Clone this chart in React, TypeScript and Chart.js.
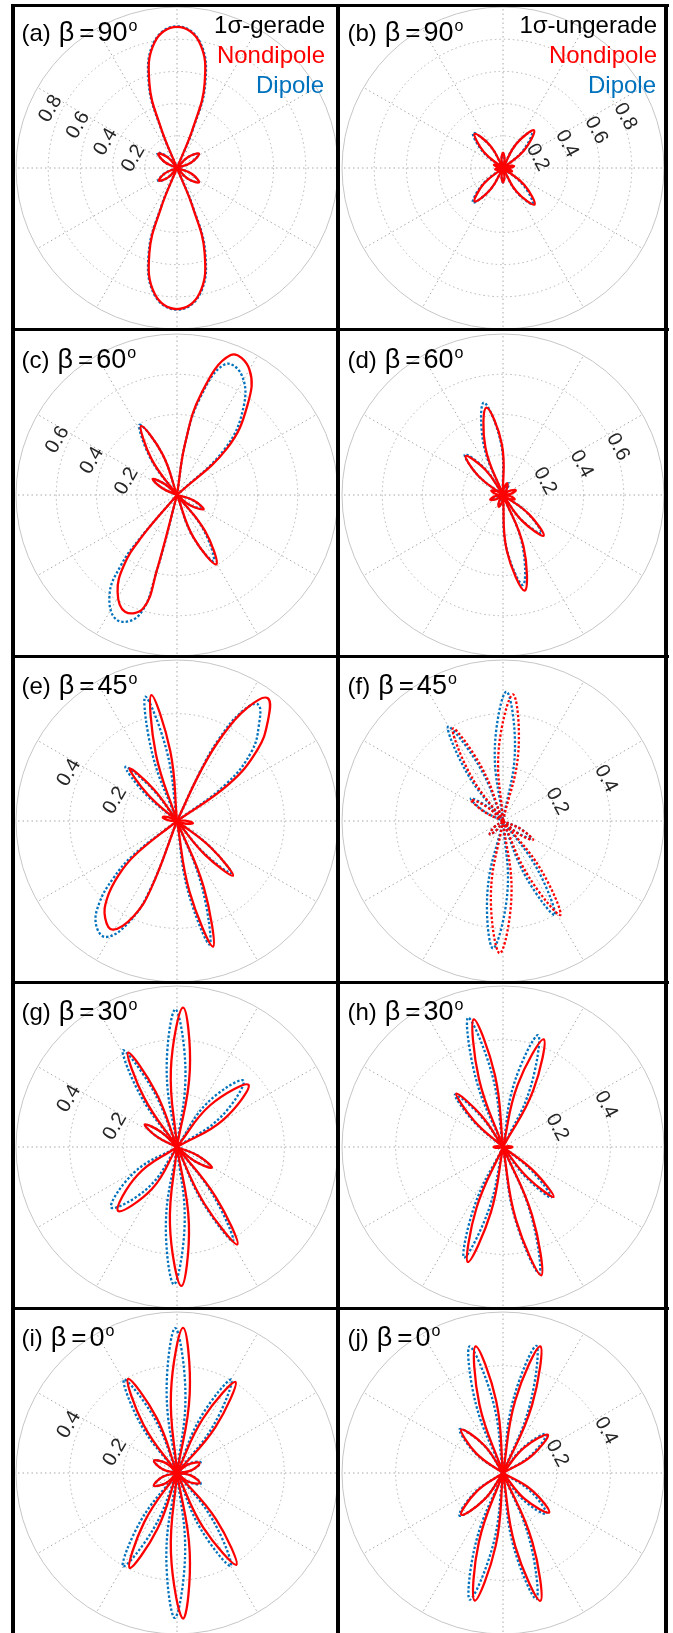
import React, { useEffect, useRef } from "react";
import { Chart, registerables } from "chart.js";
Chart.register(...registerables);

type Petal = number[][]; // list of [angleDeg, r] points along one lobe (origin added at both ends)

// ---------- panel texts ----------
const PANEL_TAGS = ["(a)", "(b)", "(c)", "(d)", "(e)", "(f)", "(g)", "(h)", "(i)", "(j)"];
const BETA_VALUES = ["90", "90", "60", "60", "45", "45", "30", "30", "0", "0"];
const STATE_LABELS = ["1σ-gerade", "1σ-ungerade"];
const SERIES_LABELS = ["Nondipole", "Dipole"];

// ---------- radial axis ----------
const R_MAX = [1, 1, 0.8, 0.8, 0.6, 0.6, 0.6, 0.6, 0.6, 0.6];
const RING_TICKS = [
  [0.2, 0.4, 0.6, 0.8], [0.2, 0.4, 0.6, 0.8],
  [0.2, 0.4, 0.6], [0.2, 0.4, 0.6],
  [0.2, 0.4], [0.2, 0.4], [0.2, 0.4], [0.2, 0.4], [0.2, 0.4], [0.2, 0.4],
];
const SPOKE_ANGLES = [0, 30, 60, 90, 120, 150, 180, 210, 240, 270, 300, 330];

// ---------- (a) beta = 90, gerade ----------
const A_NONDIPOLE: Petal[] = [
  [[68.2, 0.27], [72, 0.556], [80, 0.795], [90, 0.876], [100, 0.795], [108, 0.556], [111.8, 0.27]],
  [[248.2, 0.27], [252, 0.556], [260, 0.795], [270, 0.876], [280, 0.795], [288, 0.556], [291.8, 0.27]],
  [[21, 0.095], [33, 0.163], [45, 0.095]],
  [[315, 0.095], [327, 0.163], [339, 0.095]],
  [[131, 0.085], [142.5, 0.146], [154, 0.085]],
  [[203.5, 0.08], [215, 0.137], [226.5, 0.08]],
];
const A_DIPOLE: Petal[] = [
  [[67.8, 0.27], [71.6, 0.557], [79.8, 0.798], [90, 0.88], [100.2, 0.798], [108.4, 0.557], [112.2, 0.27]],
  [[247.8, 0.27], [251.6, 0.557], [259.8, 0.798], [270, 0.88], [280.2, 0.798], [288.4, 0.557], [292.2, 0.27]],
  [[21, 0.093], [33, 0.158], [45, 0.093]],
  [[315, 0.093], [327, 0.158], [339, 0.093]],
  [[130.5, 0.09], [142, 0.155], [153.5, 0.09]],
  [[203, 0.083], [214.5, 0.142], [226, 0.083]],
];
// ---------- (b) beta = 90, ungerade ----------
const B_NONDIPOLE: Petal[] = [
  [[39.8, 0.17], [50.5, 0.303], [61.2, 0.17]],
  [[300, 0.168], [310.8, 0.3], [321.5, 0.168]],
  [[119.5, 0.155], [129.8, 0.275], [140.1, 0.155]],
  [[219.3, 0.153], [229.6, 0.272], [239.9, 0.153]],
  [[80, 0.055], [90, 0.095], [100, 0.055]],
  [[260, 0.052], [270, 0.09], [280, 0.052]],
  [[0, 0.04], [10, 0.07], [20, 0.04]],
  [[180, 0.03], [190, 0.05], [200, 0.03]],
  [[150, 0.035], [160, 0.06], [170, 0.035]],
  [[330, 0.035], [340, 0.06], [350, 0.035]],
];
const B_DIPOLE: Petal[] = [
  [[41, 0.163], [51.5, 0.29], [62, 0.163]],
  [[299, 0.163], [309.5, 0.29], [320, 0.163]],
  [[120.3, 0.161], [130.6, 0.286], [140.9, 0.161]],
  [[218.6, 0.16], [228.9, 0.285], [239.2, 0.16]],
  [[80, 0.052], [90, 0.09], [100, 0.052]],
  [[260, 0.052], [270, 0.09], [280, 0.052]],
];
// ---------- (c) beta = 60, gerade ----------
const C_NONDIPOLE: Petal[] = [
  [[81, 0.26], [76.5, 0.52], [69, 0.745], [60, 0.72], [52, 0.57], [43, 0.34]],
  [[230, 0.28], [233, 0.44], [238.5, 0.565], [246, 0.635], [253.5, 0.585], [255, 0.39]],
  [[109.6, 0.217], [117.5, 0.386], [125.4, 0.217]],
  [[138, 0.08], [146.7, 0.145], [155.4, 0.08]],
  [[322, 0.085], [332, 0.15], [342, 0.085]],
  [[291.2, 0.226], [299.6, 0.396], [308, 0.226]],
];
const C_DIPOLE: Petal[] = [
  [[81, 0.26], [76.5, 0.5], [70, 0.69], [62, 0.68], [53, 0.55], [44, 0.33]],
  [[229.5, 0.29], [231.5, 0.45], [236, 0.6], [244.4, 0.689], [252.5, 0.625], [255, 0.4]],
  [[110, 0.222], [118, 0.395], [126, 0.222]],
  [[138, 0.08], [146.5, 0.14], [155, 0.08]],
  [[322, 0.08], [332, 0.14], [342, 0.08]],
  [[290.6, 0.215], [299, 0.375], [307.4, 0.215]],
];
// ---------- (d) beta = 60, ungerade ----------
const D_NONDIPOLE: Petal[] = [
  [[91.3, 0.252], [100.8, 0.442], [110.3, 0.252]],
  [[124.9, 0.151], [133.7, 0.268], [142.5, 0.151]],
  [[306.5, 0.16], [315, 0.286], [323.5, 0.16]],
  [[273.9, 0.276], [282.8, 0.487], [291.7, 0.276]],
  [[8, 0.038], [20, 0.068], [32, 0.038]],
  [[58, 0.035], [70, 0.062], [82, 0.035]],
  [[148, 0.035], [160, 0.062], [172, 0.035]],
  [[188, 0.038], [200, 0.068], [212, 0.038]],
  [[238, 0.035], [250, 0.062], [262, 0.035]],
  [[328, 0.035], [340, 0.062], [352, 0.035]],
];
const D_DIPOLE: Petal[] = [
  [[92.5, 0.265], [101.8, 0.469], [111.1, 0.265]],
  [[124.5, 0.156], [133.3, 0.277], [142.1, 0.156]],
  [[306.5, 0.152], [315, 0.27], [323.5, 0.152]],
  [[273.6, 0.26], [282.5, 0.458], [291.4, 0.26]],
  [[55, 0.036], [64, 0.066], [73, 0.036]],
  [[190, 0.035], [200, 0.06], [210, 0.035]],
  [[240, 0.035], [250, 0.06], [260, 0.035]],
];
// ---------- (e) beta = 45, gerade ----------
const E_NONDIPOLE: Petal[] = [
  [[64.5, 0.21], [62, 0.36], [58, 0.5], [53.5, 0.569], [47.5, 0.5], [41.5, 0.4], [35.5, 0.24]],
  [[219, 0.2], [223, 0.3], [228, 0.39], [233.5, 0.45], [239.5, 0.47], [245.5, 0.39], [249, 0.27]],
  [[95.5, 0.262], [101.5, 0.479], [107.5, 0.262]],
  [[126.3, 0.148], [132, 0.264], [137.7, 0.148]],
  [[280, 0.266], [286, 0.487], [292, 0.266]],
  [[309.7, 0.164], [315.7, 0.292], [321.7, 0.164]],
  [[155, 0.03], [165, 0.055], [175, 0.03]],
  [[342, 0.03], [352, 0.06], [362, 0.03]],
];
const E_DIPOLE: Petal[] = [
  [[65, 0.2], [63, 0.34], [59.5, 0.47], [55.2, 0.529], [49.5, 0.47], [43, 0.38], [37, 0.23]],
  [[218, 0.21], [222, 0.32], [226.5, 0.42], [232, 0.49], [238.5, 0.507], [244.5, 0.42], [248.5, 0.28]],
  [[98.3, 0.262], [104.3, 0.478], [110.3, 0.262]],
  [[127.8, 0.156], [133.6, 0.279], [139.4, 0.156]],
  [[278.8, 0.26], [284.8, 0.476], [290.8, 0.26]],
  [[310.1, 0.157], [316.1, 0.28], [322.1, 0.157]],
];
// ---------- (f) beta = 45, ungerade ----------
const F_NONDIPOLE: Petal[] = [
  [[77.5, 0.265], [85.5, 0.473], [93.5, 0.265]],
  [[111.7, 0.215], [118.4, 0.392], [125.1, 0.215]],
  [[139, 0.08], [146.4, 0.142], [153.8, 0.08]],
  [[260.6, 0.276], [268.6, 0.493], [276.6, 0.276]],
  [[294.7, 0.225], [301.4, 0.41], [308.1, 0.225]],
  [[320, 0.075], [327.7, 0.132], [335.4, 0.075]],
  [[215, 0.04], [225, 0.07], [235, 0.04]],
];
const F_DIPOLE: Petal[] = [
  [[80.5, 0.27], [88.5, 0.482], [96.5, 0.27]],
  [[113.5, 0.223], [120.2, 0.407], [126.9, 0.223]],
  [[137.5, 0.082], [145, 0.147], [152.5, 0.082]],
  [[257.5, 0.267], [265.5, 0.476], [273.5, 0.267]],
  [[292.1, 0.22], [298.8, 0.4], [305.5, 0.22]],
  [[321, 0.07], [328.5, 0.124], [336, 0.07]],
  [[215, 0.04], [225, 0.07], [235, 0.04]],
];
// ---------- (g) beta = 30, gerade ----------
const G_NONDIPOLE: Petal[] = [
  [[80.5, 0.29], [87.5, 0.52], [94.5, 0.29]],
  [[264.8, 0.29], [271.8, 0.518], [278.8, 0.29]],
  [[111.1, 0.22], [117.4, 0.396], [123.7, 0.22]],
  [[30.5, 0.2], [41, 0.353], [51.5, 0.2]],
  [[137, 0.083], [145, 0.147], [153, 0.083]],
  [[215.3, 0.18], [227.3, 0.324], [239.3, 0.18]],
  [[295.8, 0.236], [301.8, 0.427], [307.8, 0.236]],
  [[321.4, 0.085], [329.4, 0.151], [337.4, 0.085]],
];
const G_DIPOLE: Petal[] = [
  [[83.7, 0.287], [90.7, 0.513], [97.7, 0.287]],
  [[261.7, 0.287], [268.7, 0.512], [275.7, 0.287]],
  [[112.9, 0.23], [119.2, 0.413], [125.5, 0.23]],
  [[34.5, 0.2], [45, 0.35], [55.5, 0.2]],
  [[137, 0.083], [145, 0.145], [153, 0.083]],
  [[210.7, 0.185], [222.7, 0.333], [234.7, 0.185]],
  [[294.8, 0.225], [300.8, 0.408], [306.8, 0.225]],
  [[321.4, 0.083], [329.4, 0.148], [337.4, 0.083]],
];
// ---------- (h) beta = 30, ungerade ----------
const H_NONDIPOLE: Petal[] = [
  [[96.4, 0.27], [102.9, 0.488], [109.4, 0.27]],
  [[61.8, 0.237], [69.3, 0.429], [76.8, 0.237]],
  [[124.7, 0.146], [131.2, 0.264], [137.7, 0.146]],
  [[246.5, 0.248], [253, 0.448], [259.5, 0.248]],
  [[280.1, 0.276], [286.6, 0.499], [293.1, 0.276]],
  [[308.9, 0.146], [315.4, 0.265], [321.9, 0.146]],
  [[170, 0.02], [180, 0.035], [190, 0.02]],
  [[350, 0.02], [360, 0.035], [370, 0.02]],
];
const H_DIPOLE: Petal[] = [
  [[98.6, 0.275], [105.1, 0.499], [111.6, 0.275]],
  [[65.1, 0.24], [72.6, 0.437], [80.1, 0.24]],
  [[126, 0.146], [132.5, 0.265], [139, 0.146]],
  [[244.1, 0.242], [250.6, 0.437], [257.1, 0.242]],
  [[279.5, 0.27], [286, 0.49], [292.5, 0.27]],
  [[307.2, 0.143], [313.7, 0.26], [320.2, 0.143]],
];
// ---------- (i) beta = 0, gerade ----------
const I_NONDIPOLE: Petal[] = [
  [[80.9, 0.3], [87.6, 0.541], [94.3, 0.3]],
  [[265.7, 0.3], [272.4, 0.543], [279.1, 0.3]],
  [[110.3, 0.22], [117.5, 0.395], [124.7, 0.22]],
  [[50.1, 0.224], [57.3, 0.403], [64.5, 0.224]],
  [[236.3, 0.22], [243.5, 0.395], [250.7, 0.22]],
  [[295.7, 0.226], [302.9, 0.407], [310.1, 0.226]],
  [[138, 0.055], [151.8, 0.097], [165.6, 0.055]],
  [[195, 0.055], [208.8, 0.098], [222.6, 0.055]],
  [[10, 0.052], [23.8, 0.092], [37.6, 0.052]],
  [[322.4, 0.052], [336.2, 0.092], [350, 0.052]],
];
const I_DIPOLE: Petal[] = [
  [[84, 0.3], [90.7, 0.54], [97.4, 0.3]],
  [[262.4, 0.3], [269.1, 0.54], [275.8, 0.3]],
  [[112.4, 0.222], [119.6, 0.4], [126.8, 0.222]],
  [[52.6, 0.224], [59.8, 0.403], [67, 0.224]],
  [[232.8, 0.224], [240, 0.402], [247.2, 0.224]],
  [[292.8, 0.222], [300, 0.4], [307.2, 0.222]],
  [[138, 0.055], [151.8, 0.097], [165.6, 0.055]],
  [[195, 0.055], [208.8, 0.098], [222.6, 0.055]],
  [[10.5, 0.055], [24.3, 0.097], [38.1, 0.055]],
  [[321.9, 0.055], [335.7, 0.097], [349.5, 0.055]],
];
// ---------- (j) beta = 0, ungerade ----------
const J_NONDIPOLE: Petal[] = [
  [[95.4, 0.27], [102.2, 0.483], [109, 0.27]],
  [[66.8, 0.274], [73.6, 0.492], [80.4, 0.274]],
  [[124.2, 0.125], [133.9, 0.224], [143.6, 0.125]],
  [[30.7, 0.123], [40.4, 0.22], [50.1, 0.123]],
  [[250.7, 0.272], [257.5, 0.487], [264.3, 0.272]],
  [[279.5, 0.277], [286.3, 0.496], [293.1, 0.277]],
  [[215.3, 0.123], [225, 0.22], [234.7, 0.123]],
  [[309.8, 0.126], [319.5, 0.226], [329.2, 0.126]],
];
const J_DIPOLE: Petal[] = [
  [[98, 0.272], [104.8, 0.488], [111.6, 0.272]],
  [[68.5, 0.273], [75.3, 0.49], [82.1, 0.273]],
  [[124.9, 0.128], [134.6, 0.23], [144.3, 0.128]],
  [[32.3, 0.121], [42, 0.217], [51.7, 0.121]],
  [[248.5, 0.272], [255.3, 0.488], [262.1, 0.272]],
  [[278, 0.271], [284.8, 0.486], [291.6, 0.271]],
  [[214.7, 0.127], [224.4, 0.227], [234.1, 0.127]],
  [[306.9, 0.124], [316.6, 0.222], [326.3, 0.124]],
];

const NONDIPOLE_SETS = [A_NONDIPOLE, B_NONDIPOLE, C_NONDIPOLE, D_NONDIPOLE, E_NONDIPOLE, F_NONDIPOLE, G_NONDIPOLE, H_NONDIPOLE, I_NONDIPOLE, J_NONDIPOLE];
const DIPOLE_SETS = [A_DIPOLE, B_DIPOLE, C_DIPOLE, D_DIPOLE, E_DIPOLE, F_DIPOLE, G_DIPOLE, H_DIPOLE, I_DIPOLE, J_DIPOLE];
const NONDIPOLE_DOTTED = [false, false, false, false, false, true, false, false, false, false];

// ---------- layout / style ----------
const CENTER_X = [177, 503];
const CENTER_Y = [168, 495, 821, 1147, 1473];
const HALF = 170; // canvas half-size
const R_PIX = 161; // pixel radius of outer circle
const RED = "#ff0000";
const BLUE = "#0072bd";
const FONT = '"Liberation Sans", Arial, Helvetica, sans-serif';

function toPoints(p: Petal) {
  const pts = [{ x: 0, y: 0 }];
  for (const [deg, r] of p) {
    const a = (deg * Math.PI) / 180;
    pts.push({ x: r * Math.cos(a), y: r * Math.sin(a) });
  }
  pts.push({ x: 0, y: 0 });
  return pts;
}

function Panel({ idx }: { idx: number }) {
  const ref = useRef<HTMLCanvasElement>(null);
  const col = idx % 2;
  const row = Math.floor(idx / 2);
  useEffect(() => {
    const rmax = R_MAX[idx];
    const ext = (HALF * rmax) / R_PIX;
    const datasets: any[] = [];
    NONDIPOLE_SETS[idx].forEach((p) =>
      datasets.push({
        data: toPoints(p),
        showLine: true,
        borderColor: RED,
        borderWidth: 2.3,
        borderDash: NONDIPOLE_DOTTED[idx] ? [2.4, 2] : [],
        tension: 0.42,
        pointRadius: 0,
        fill: false,
        order: 0,
      })
    );
    DIPOLE_SETS[idx].forEach((p) =>
      datasets.push({
        data: toPoints(p),
        showLine: true,
        borderColor: BLUE,
        borderWidth: 2.3,
        borderDash: [2.4, 2],
        tension: 0.42,
        pointRadius: 0,
        fill: false,
        order: 1,
      })
    );

    const polarGrid = {
      id: "polarGrid" + idx,
      beforeDatasetsDraw(chart: any) {
        const ctx = chart.ctx;
        const xs = chart.scales.x;
        const ys = chart.scales.y;
        const cx = xs.getPixelForValue(0);
        const cy = ys.getPixelForValue(0);
        const ppu = xs.getPixelForValue(1) - cx;
        ctx.save();
        ctx.lineWidth = 1;
        ctx.setLineDash([1.5, 3]);
        ctx.strokeStyle = "#b4b4b4";
        RING_TICKS[idx].forEach((r) => {
          ctx.beginPath();
          ctx.arc(cx, cy, r * ppu, 0, Math.PI * 2);
          ctx.stroke();
        });
        ctx.strokeStyle = "#a8a8a8";
        SPOKE_ANGLES.forEach((deg) => {
          const a = (deg * Math.PI) / 180;
          ctx.beginPath();
          ctx.moveTo(cx, cy);
          ctx.lineTo(cx + rmax * ppu * Math.cos(a), cy - rmax * ppu * Math.sin(a));
          ctx.stroke();
        });
        ctx.setLineDash([]);
        ctx.strokeStyle = "#c6c6c6";
        ctx.beginPath();
        ctx.arc(cx, cy, rmax * ppu, 0, Math.PI * 2);
        ctx.stroke();
        // tick labels
        ctx.fillStyle = "#262626";
        ctx.font = "20px " + FONT;
        ctx.textAlign = "center";
        ctx.textBaseline = "middle";
        RING_TICKS[idx].forEach((r) => {
          let x: number, y: number, rot: number;
          if (col === 0) {
            const a = (149 * Math.PI) / 180;
            x = cx + r * ppu * Math.cos(a) - 16;
            y = cy - r * ppu * Math.sin(a) + 7;
            rot = -60;
          } else {
            const a = (25 * Math.PI) / 180;
            x = cx + r * ppu * Math.cos(a) + 5.5;
            y = cy - r * ppu * Math.sin(a) + 3;
            rot = 62;
          }
          ctx.save();
          ctx.translate(x, y);
          ctx.rotate((rot * Math.PI) / 180);
          ctx.fillText(r.toFixed(1), 0, 0);
          ctx.restore();
        });
        ctx.restore();
      },
      afterDraw(chart: any) {
        const ctx = chart.ctx;
        const cx = chart.scales.x.getPixelForValue(0);
        const cy = chart.scales.y.getPixelForValue(0);
        ctx.save();
        ctx.fillStyle = "#000";
        ctx.textAlign = "left";
        ctx.textBaseline = "alphabetic";
        let x = cx - 155.5;
        const ty = cy - 127.5;
        ctx.font = "24px " + FONT;
        ctx.fillText(PANEL_TAGS[idx], x, ty);
        x += ctx.measureText(PANEL_TAGS[idx]).width + 8;
        ctx.font = "27px " + FONT;
        ctx.fillText("β", x, ty);
        x += ctx.measureText("β").width + 5;
        ctx.font = "26px " + FONT;
        ctx.fillText("=", x, ty);
        x += ctx.measureText("=").width + 3;
        ctx.font = "27px " + FONT;
        ctx.fillText(BETA_VALUES[idx], x, ty);
        x += ctx.measureText(BETA_VALUES[idx]).width + 1;
        ctx.font = "16px " + FONT;
        ctx.fillText("o", x, ty - 9.5);
        if (row === 0) {
          ctx.font = "24px " + FONT;
          ctx.textAlign = "right";
          const rx = cx + (col === 0 ? 148 : 154);
          ctx.fillStyle = "#000";
          ctx.fillText(STATE_LABELS[col], rx, cy - 135);
          ctx.fillStyle = RED;
          ctx.fillText(SERIES_LABELS[0], rx, cy - 105);
          ctx.fillStyle = BLUE;
          ctx.fillText(SERIES_LABELS[1], rx - 1, cy - 75.5);
        }
        ctx.restore();
      },
    };

    const chart = new Chart(ref.current as HTMLCanvasElement, {
      type: "scatter",
      data: { datasets },
      options: {
        animation: false,
        responsive: false,
        devicePixelRatio: 1,
        layout: { padding: 0 },
        events: [],
        scales: {
          x: { type: "linear", min: -ext, max: ext, display: false },
          y: { type: "linear", min: -ext, max: ext, display: false },
        },
        plugins: { legend: { display: false }, tooltip: { enabled: false }, title: { display: false } },
      },
      plugins: [polarGrid],
    } as any);
    return () => chart.destroy();
  }, [idx]);

  return (
    <canvas
      ref={ref}
      width={HALF * 2}
      height={HALF * 2}
      style={{
        position: "absolute",
        left: CENTER_X[col] - HALF,
        top: CENTER_Y[row] - HALF,
        width: HALF * 2,
        height: HALF * 2,
      }}
    />
  );
}

export default function App() {
  const hLines = [3.5, 327.5, 654.5, 980.5, 1306.5];
  const vLines = [11, 336, 664];
  return (
    <div
      style={{
        position: "absolute",
        left: 0,
        top: 0,
        width: 673,
        height: 1633,
        background: "#fff",
        overflow: "hidden",
      }}
    >
      {PANEL_TAGS.map((_, i) => (
        <Panel key={i} idx={i} />
      ))}
      {hLines.map((y, i) => (
        <div key={"h" + i} style={{ position: "absolute", left: 11, top: y, width: 657.5, height: 3.6, background: "#000" }} />
      ))}
      {vLines.map((x, i) => (
        <div key={"v" + i} style={{ position: "absolute", left: x, top: 3.5, width: 4.4, height: 1640, background: "#000" }} />
      ))}
    </div>
  );
}
